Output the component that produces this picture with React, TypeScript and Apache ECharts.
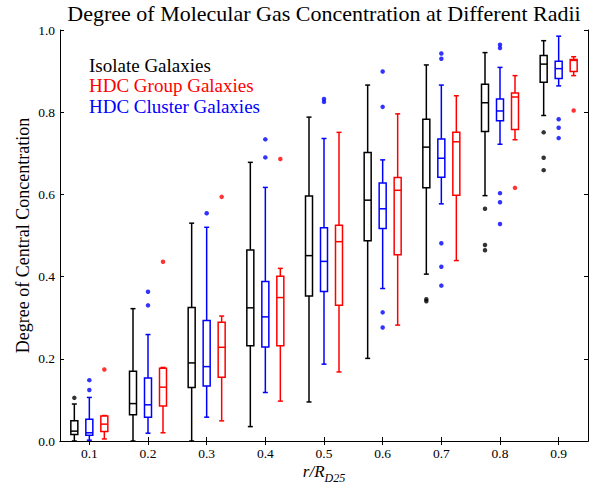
import React, { useEffect, useRef } from "react";
import * as echarts from "echarts";

const categories = ["0.1", "0.2", "0.3", "0.4", "0.5", "0.6", "0.7", "0.8", "0.9"];

// [min, q1, median, q3, max]
const isolateBoxes = [
  [0.0, 0.016, 0.024, 0.049, 0.09],
  [0.0, 0.064, 0.091, 0.17, 0.322],
  [0.0, 0.13, 0.19, 0.325, 0.53],
  [0.035, 0.232, 0.324, 0.465, 0.678],
  [0.095, 0.353, 0.451, 0.596, 0.788],
  [0.201, 0.487, 0.586, 0.702, 0.866],
  [0.406, 0.616, 0.715, 0.783, 0.915],
  [0.597, 0.753, 0.823, 0.868, 0.945],
  [0.792, 0.873, 0.917, 0.938, 0.974],
];
const groupBoxes = [
  [0.005, 0.023, 0.041, 0.061, 0.062],
  [0.02, 0.085, 0.131, 0.177, 0.179],
  [0.049, 0.155, 0.228, 0.289, 0.304],
  [0.097, 0.232, 0.349, 0.401, 0.42],
  [0.168, 0.33, 0.485, 0.525, 0.751],
  [0.282, 0.453, 0.61, 0.641, 0.796],
  [0.439, 0.598, 0.728, 0.751, 0.84],
  [0.733, 0.758, 0.837, 0.847, 0.889],
  [0.889, 0.899, 0.926, 0.928, 0.935],
];
const clusterBoxes = [
  [0.002, 0.014, 0.02, 0.053, 0.106],
  [0.019, 0.058, 0.088, 0.153, 0.259],
  [0.058, 0.134, 0.181, 0.293, 0.52],
  [0.118, 0.229, 0.302, 0.388, 0.617],
  [0.187, 0.364, 0.437, 0.519, 0.736],
  [0.371, 0.517, 0.565, 0.628, 0.684],
  [0.577, 0.642, 0.688, 0.735, 0.866],
  [0.722, 0.779, 0.803, 0.832, 0.909],
  [0.864, 0.882, 0.906, 0.924, 0.985],
];

// [category index, value]
const isolateOutliers = [
  [0, 0.105], [6, 0.345], [6, 0.34], [7, 0.565], [7, 0.477], [7, 0.464],
  [8, 0.751], [8, 0.689], [8, 0.659],
];
const groupOutliers = [
  [0, 0.174], [1, 0.436], [2, 0.594], [3, 0.686], [7, 0.616], [8, 0.804],
];
const clusterOutliers = [
  [0, 0.148], [0, 0.124], [1, 0.363], [1, 0.33], [2, 0.554], [3, 0.734], [3, 0.69],
  [4, 0.825], [4, 0.832], [5, 0.899], [5, 0.813], [5, 0.313], [5, 0.276],
  [6, 0.943], [6, 0.93], [6, 0.481], [6, 0.424], [6, 0.378],
  [7, 0.964], [7, 0.956], [7, 0.603], [7, 0.581], [7, 0.528],
  [8, 0.783], [8, 0.762], [8, 0.737],
];

const yTicks = [0, 0.2, 0.4, 0.6, 0.8, 1.0];
const legendLabels = ["Isolate Galaxies", "HDC Group Galaxies", "HDC Cluster Galaxies"];

const SERIF = "Liberation Serif";
const BLACK = "#000000";
const RED = "#ff0000";
const BLUE = "#0000ff";

function boxSeries(name: string, boxes: number[][], color: string, offset: number) {
  return {
    type: "custom",
    name,
    xAxisIndex: 0,
    yAxisIndex: 0,
    data: boxes.map((b, i) => [i, ...b]),
    encode: { x: 0, y: [1, 2, 3, 4, 5] },
    clip: false,
    renderItem: (params: any, api: any) => {
      const ci = api.value(0);
      const pMin = api.coord([ci, api.value(1)]);
      const pQ1 = api.coord([ci, api.value(2)]);
      const pMed = api.coord([ci, api.value(3)]);
      const pQ3 = api.coord([ci, api.value(4)]);
      const pMax = api.coord([ci, api.value(5)]);
      const x = pMin[0] + offset;
      const w = 7;
      const cw = 5;
      const style = { stroke: color, lineWidth: 1.5, fill: "none" };
      return {
        type: "group",
        children: [
          { type: "line", shape: { x1: x, y1: pMin[1], x2: x, y2: pQ1[1] }, style },
          { type: "line", shape: { x1: x, y1: pQ3[1], x2: x, y2: pMax[1] }, style },
          { type: "line", shape: { x1: x - cw / 2, y1: pMin[1], x2: x + cw / 2, y2: pMin[1] }, style },
          { type: "line", shape: { x1: x - cw / 2, y1: pMax[1], x2: x + cw / 2, y2: pMax[1] }, style },
          {
            type: "rect",
            shape: { x: x - w / 2, y: pQ3[1], width: w, height: pQ1[1] - pQ3[1] },
            style: { stroke: color, lineWidth: 1.5, fill: "#ffffff" },
          },
          { type: "line", shape: { x1: x - w / 2, y1: pMed[1], x2: x + w / 2, y2: pMed[1] }, style },
        ],
      };
    },
  };
}

function outlierSeries(name: string, pts: number[][], color: string, offset: number) {
  return {
    type: "scatter",
    name,
    xAxisIndex: 0,
    yAxisIndex: 0,
    data: pts,
    symbol: "circle",
    symbolSize: 4.5,
    symbolOffset: [offset, 0],
    itemStyle: { color },
    z: 3,
  };
}

export default function App() {
  const ref = useRef<HTMLDivElement>(null);
  useEffect(() => {
    if (!ref.current) return;
    const chart = echarts.init(ref.current, undefined, { renderer: "svg" });
    const axisLine = { show: true, lineStyle: { color: BLACK, width: 1 } };
    const tick = { show: true, inside: true, length: 4, lineStyle: { color: BLACK, width: 1 } };
    const legendText = (i: number, y: number, fill: string) => ({
      type: "text",
      x: 89,
      y,
      style: {
        text: legendLabels[i],
        fontFamily: SERIF,
        fontSize: 19,
        fill,
        align: "left",
        verticalAlign: "middle",
      },
    });
    const option: any = {
      animation: false,
      backgroundColor: "#ffffff",
      textStyle: { fontFamily: SERIF },
      grid: { left: 60, right: 2, top: 30, bottom: 43, containLabel: false, outerBoundsMode: "none" },
      xAxis: [
        {
          type: "category",
          data: categories,
          position: "bottom",
          boundaryGap: true,
          axisLine,
          axisTick: { ...tick, alignWithLabel: true },
          axisLabel: { color: BLACK, fontFamily: SERIF, fontSize: 13.5, margin: 5 },
          splitLine: { show: false },
          name: "{i|r/R}{s|D25}",
          nameLocation: "middle",
          nameGap: 22,
          nameMoveOverlap: false,
          nameTextStyle: {
            rich: {
              i: { fontFamily: SERIF, fontStyle: "italic", fontSize: 17, color: BLACK, verticalAlign: "top" },
              s: { fontFamily: SERIF, fontStyle: "italic", fontSize: 12, color: BLACK, padding: [9, 0, 0, 0], verticalAlign: "top" },
            },
          },
        },
        {
          type: "category",
          data: categories,
          position: "top",
          boundaryGap: true,
          axisLine,
          axisTick: { ...tick, alignWithLabel: true },
          axisLabel: { show: false },
          splitLine: { show: false },
        },
      ],
      yAxis: [
        {
          type: "value",
          min: 0,
          max: 1,
          interval: 0.2,
          position: "left",
          axisLine,
          axisTick: tick,
          axisLabel: {
            color: BLACK,
            fontFamily: SERIF,
            fontSize: 13.5,
            margin: 5,
            formatter: (v: number) => (yTicks.some((t) => Math.abs(t - v) < 1e-9) ? v.toFixed(1) : ""),
          },
          splitLine: { show: false },
          name: "Degree of Central Concentration",
          nameLocation: "middle",
          nameGap: 28,
          nameMoveOverlap: false,
          nameRotate: 90,
          nameTextStyle: { fontFamily: SERIF, fontSize: 18, color: BLACK },
        },
        {
          type: "value",
          min: 0,
          max: 1,
          interval: 0.2,
          position: "right",
          axisLine,
          axisTick: tick,
          axisLabel: { show: false },
          splitLine: { show: false },
        },
      ],
      graphic: [
        {
          type: "text",
          x: 324,
          y: 13,
          style: {
            text: "Degree of Molecular Gas Concentration at Different Radii",
            fontFamily: SERIF,
            fontSize: 22,
            fill: BLACK,
            align: "center",
            verticalAlign: "middle",
          },
        },
        legendText(0, 65, BLACK),
        legendText(1, 85.5, RED),
        legendText(2, 106, BLUE),
      ],
      series: [
        boxSeries("Isolate Galaxies", isolateBoxes, BLACK, -15),
        boxSeries("HDC Cluster Galaxies", clusterBoxes, BLUE, 0),
        boxSeries("HDC Group Galaxies", groupBoxes, RED, 15),
        outlierSeries("Isolate outliers", isolateOutliers, BLACK, -15),
        outlierSeries("Cluster outliers", clusterOutliers, BLUE, 0),
        outlierSeries("Group outliers", groupOutliers, RED, 15),
      ],
    };
    chart.setOption(option);
    return () => chart.dispose();
  }, []);
  return (
    <div
      ref={ref}
      style={{ position: "fixed", left: 0, top: 0, width: 590, height: 484, background: "#fff" }}
    />
  );
}
